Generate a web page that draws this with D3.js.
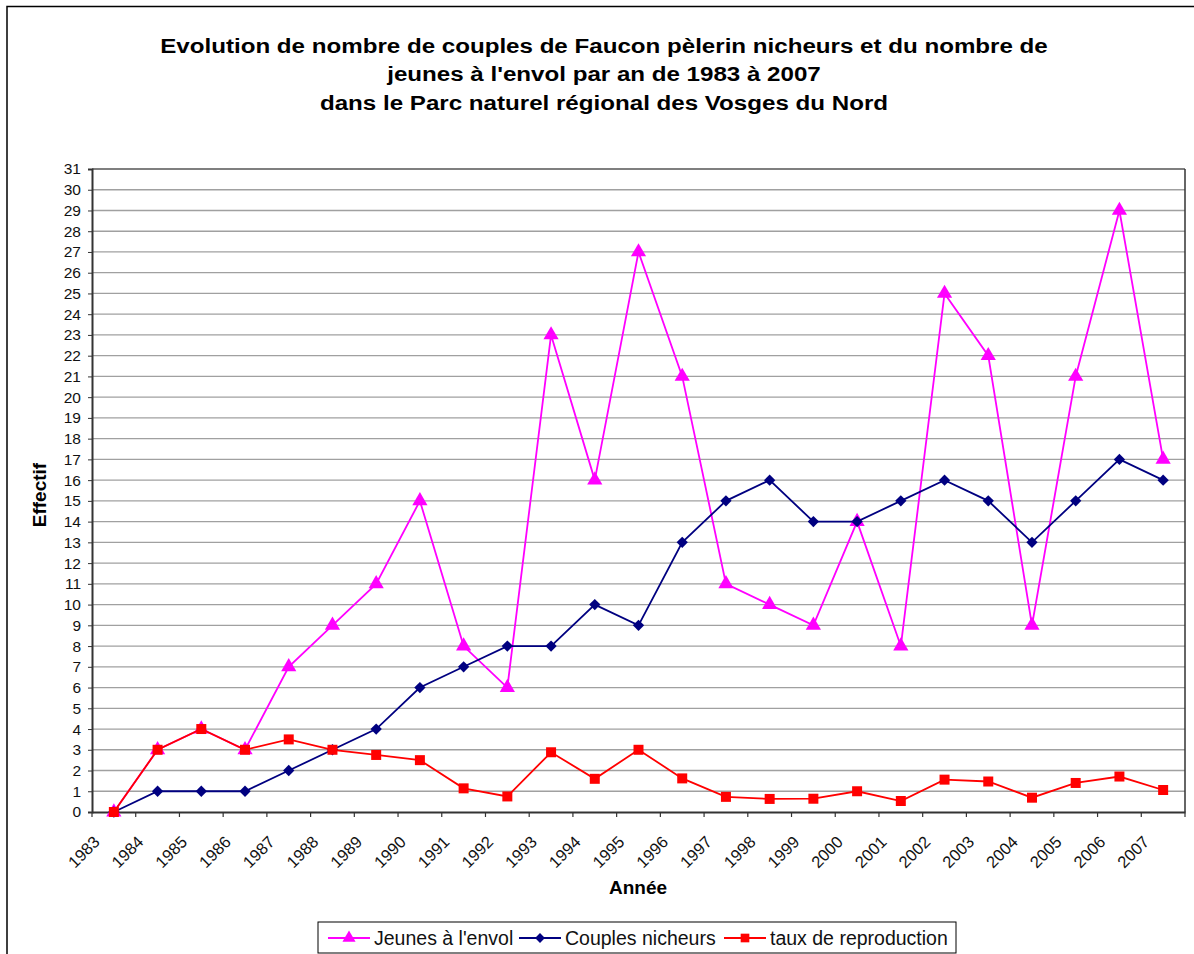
<!DOCTYPE html>
<html>
<head>
<meta charset="utf-8">
<script src="https://cdn.jsdelivr.net/npm/d3@7"></script>
<style>
  body { margin: 0; background: #fff; }
  text { font-family: "Liberation Sans", Arial, sans-serif; }
</style>
</head>
<body>
<div id="chart"></div>
<script>
const years = ['1983','1984','1985','1986','1987','1988','1989','1990','1991','1992','1993','1994','1995',
  '1996','1997','1998','1999','2000','2001','2002','2003','2004','2005','2006','2007'];
const jeunes = [0,3,4,3,7,9,11,15,8,6,23,16,27,21,11,10,9,14,8,25,22,9,21,29,17];
const couples = [0,1,1,1,2,3,4,6,7,8,8,10,9,13,15,16,14,14,15,16,15,13,15,17,16];
const taux = [0,3,4,3,3.5,3,2.75,2.5,1.14,0.75,2.88,1.6,3,1.62,0.73,0.63,0.64,1,0.53,1.56,1.47,0.69,1.4,1.71,1.06];
const yTicks = d3.range(0, 32);
const titleLines = [
  "Evolution de nombre de couples de Faucon pèlerin nicheurs et du nombre de",
  "jeunes à l'envol par an de 1983 à 2007",
  "dans le Parc naturel régional des Vosges du Nord"
];

const width = 1194;
const height = 954;
const plot = { left: 92, top: 169, right: 1185, bottom: 812 };

const svg = d3.select('#chart')
  .append('svg')
  .attr('width', width)
  .attr('height', height);

// outer frame (top + left only visible)
svg.append('path')
  .attr('d', `M7,${height} L7,6.5 L${width},6.5`)
  .attr('fill', 'none')
  .attr('stroke', '#000')
  .attr('stroke-width', 1.5);

/* Title - the original text is a bit stretched horizontally */
svg.append('g')
  .attr('transform', 'translate(604, 0) scale(1.15, 1)')
  .selectAll('text')
  .data(titleLines)
  .enter()
  .append('text')
  .attr('x', 0)
  .attr('y', (d, i) => 53 + i * 28.5)
  .attr('text-anchor', 'middle')
  .style('font-size', '21px')
  .style('font-weight', 'bold')
  .text((d) => d);

/* Scales */
const xBand = d3.scaleBand()
  .domain(years)
  .range([plot.left, plot.right]);

const xScale = (y) => xBand(y) + xBand.bandwidth() / 2;

const yScale = d3.scaleLinear()
  .domain([0, 31])
  .range([plot.bottom, plot.top]);

/* Grid */
svg.append('g')
  .selectAll('line')
  .data(yTicks.filter((d) => d > 0))
  .enter()
  .append('line')
  .attr('x1', plot.left)
  .attr('x2', plot.right)
  .attr('y1', (d) => yScale(d))
  .attr('y2', (d) => yScale(d))
  .attr('stroke', (d) => d === 31 ? '#555' : '#a0a0a0')
  .attr('stroke-width', (d) => d === 31 ? 1.5 : 1.3);

svg.append('line')
  .attr('x1', plot.right).attr('x2', plot.right)
  .attr('y1', plot.top).attr('y2', plot.bottom)
  .attr('stroke', '#333').attr('stroke-width', 1.5);

/* Axes */
const yAxis = d3.axisLeft(yScale).tickValues(yTicks).tickSize(4).tickPadding(7);
const gy = svg.append('g')
  .attr('transform', `translate(${plot.left}, 0)`)
  .call(yAxis);
gy.select('.domain').attr('stroke', '#333').attr('stroke-width', 2);
gy.selectAll('.tick line').attr('stroke', '#333');
gy.selectAll('.tick text')
  .style('font-size', '15.5px')
  .attr('fill', '#111')
  .style('font-family', '"Liberation Sans", Arial, sans-serif');

const xAxis = d3.axisBottom(xBand).tickSize(0).tickFormat('');
const gx = svg.append('g')
  .attr('transform', `translate(0, ${plot.bottom})`)
  .call(xAxis);
gx.select('.domain').attr('stroke', '#333').attr('stroke-width', 2);

// ticks between categories
svg.append('g')
  .selectAll('line')
  .data(years.concat(['end']))
  .enter()
  .append('line')
  .attr('x1', (d, i) => plot.left + i * xBand.bandwidth())
  .attr('x2', (d, i) => plot.left + i * xBand.bandwidth())
  .attr('y1', plot.bottom)
  .attr('y2', plot.bottom + 5)
  .attr('stroke', '#333')
  .attr('stroke-width', 1.2);

svg.append('g')
  .selectAll('text')
  .data(years)
  .enter()
  .append('text')
  .attr('text-anchor', 'end')
  .attr('transform', (d) => `translate(${xScale(d) - 13}, ${plot.bottom + 31}) rotate(-45)`)
  .style('font-size', '16.5px')
  .attr('fill', '#111')
  .text((d) => d);

/* Axis titles */
svg.append('text')
  .attr('x', 638)
  .attr('y', 894)
  .attr('text-anchor', 'middle')
  .style('font-size', '19px')
  .style('font-weight', 'bold')
  .text('Année');

svg.append('text')
  .attr('transform', 'translate(46, 495) rotate(-90)')
  .attr('text-anchor', 'middle')
  .style('font-size', '19px')
  .style('font-weight', 'bold')
  .text('Effectif');

/* Series */
// rot: rotate the marker (square turned 45deg gives the wide Excel diamond)
const series = [
  { name: "Jeunes à l'envol", color: '#ff00ff', values: jeunes, symbol: d3.symbolTriangle, size: 100, rot: 0 },
  { name: 'Couples nicheurs', color: '#000080', values: couples, symbol: d3.symbolSquare, size: 64, rot: 45 },
  { name: 'taux de reproduction', color: '#ff0000', values: taux, symbol: d3.symbolSquare, size: 100, rot: 0 }
];

const line = d3.line()
  .x((d) => xScale(d.x))
  .y((d) => yScale(d.y));

series.forEach((s) => {
  const pts = years.map((y, i) => ({ x: y, y: s.values[i] }));
  const g = svg.append('g');
  g.append('path')
    .attr('d', line(pts))
    .attr('fill', 'none')
    .attr('stroke', s.color)
    .attr('stroke-width', 1.8);
  g.selectAll('path.pt')
    .data(pts)
    .enter()
    .append('path')
    .attr('class', 'pt')
    .attr('d', d3.symbol().type(s.symbol).size(s.size))
    .attr('transform', (d) => `translate(${xScale(d.x)}, ${yScale(d.y)}) rotate(${s.rot})`)
    .attr('fill', s.color);
});

/* Legend */
const legend = svg.append('g').attr('transform', 'translate(318, 922)');
legend.append('rect')
  .attr('width', 638)
  .attr('height', 31)
  .attr('fill', '#fff')
  .attr('stroke', '#000')
  .attr('stroke-width', 1);

const legendX = [10, 201, 406];
series.forEach((s, i) => {
  const g = legend.append('g').attr('transform', `translate(${legendX[i]}, 16)`);
  g.append('line')
    .attr('x1', 0).attr('x2', 42)
    .attr('stroke', s.color).attr('stroke-width', 1.8);
  g.append('path')
    .attr('d', d3.symbol().type(s.symbol).size(s.size * 0.75))
    .attr('transform', `translate(21, 0) rotate(${s.rot})`)
    .attr('fill', s.color);
  g.append('text')
    .attr('x', 46)
    .attr('y', 7)
    .style('font-size', '19.5px')
    .attr('fill', '#111')
    .text(s.name);
});
</script>
</body>
</html>
